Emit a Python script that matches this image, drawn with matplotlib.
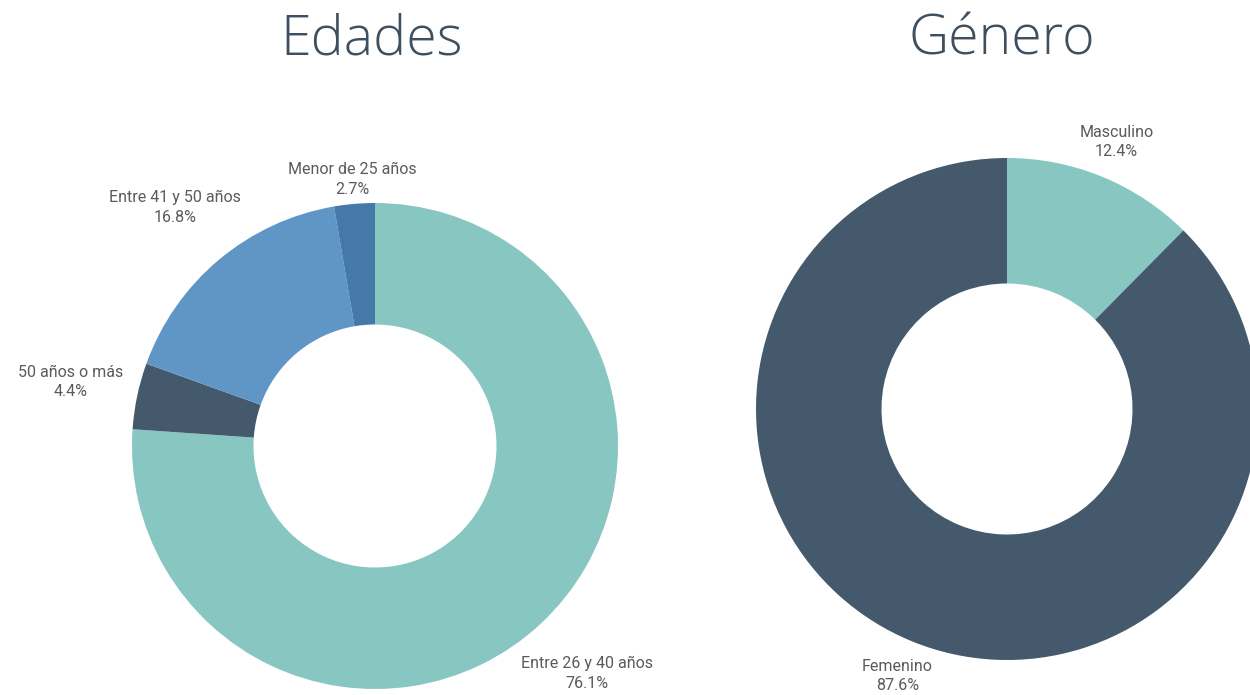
import numpy as np
import matplotlib.pyplot as plt

# data
edad_labels = ['Entre 26 y 40 años', '50 años o más', 'Entre 41 y 50 años', 'Menor de 25 años']
edad_values = [76.1, 4.4, 16.8, 2.7]
edad_colors = ['#88c6c2', '#44596b', '#6096c6', '#4479a8']

genero_labels = ['Masculino', 'Femenino']
genero_values = [12.4, 87.6]
genero_colors = ['#88c6c2', '#44596b']

W, H = 1250, 695
fig = plt.figure(figsize=(W / 100, H / 100), dpi=100)
fig.patch.set_facecolor('white')

label_font = dict(family=['Roboto', 'DejaVu Sans'], fontsize=11.5, color='#5a5a5a')
title_font = dict(family=['Open Sans', 'DejaVu Sans'], fontsize=40, color='#3e5060', fontweight='light')


def donut(cx, cy, r, values, labels, colors, dists):
    ax = fig.add_axes([(cx - r) / W, (H - cy - r) / H, 2 * r / W, 2 * r / H])
    wedges, _ = ax.pie(values, colors=colors, startangle=90, counterclock=False,
                       radius=1, wedgeprops=dict(width=0.5, linewidth=0))
    ax.set_xlim(-1, 1)
    ax.set_ylim(-1, 1)
    ax.axis('off')
    for w, lab, v, d in zip(wedges, labels, values, dists):
        ang = np.deg2rad((w.theta1 + w.theta2) / 2)
        x, y = d * np.cos(ang), d * np.sin(ang)
        ax.text(x, y, f'{lab}\n{v:.1f}%', ha='center', va='center',
                linespacing=1.4, **label_font)
    return ax


donut(375, 446, 243, edad_values, edad_labels, edad_colors, [1.28, 1.28, 1.28, 1.1])
donut(1007, 409, 251, genero_values, genero_labels, genero_colors, [1.15, 1.15])

fig.text(372 / W, 1 - 40 / H, 'Edades', ha='center', va='center', **title_font)
fig.text(1002 / W, 1 - 40 / H, 'Género', ha='center', va='center', **title_font)

fig.savefig('out.png', dpi=100, facecolor='white')
